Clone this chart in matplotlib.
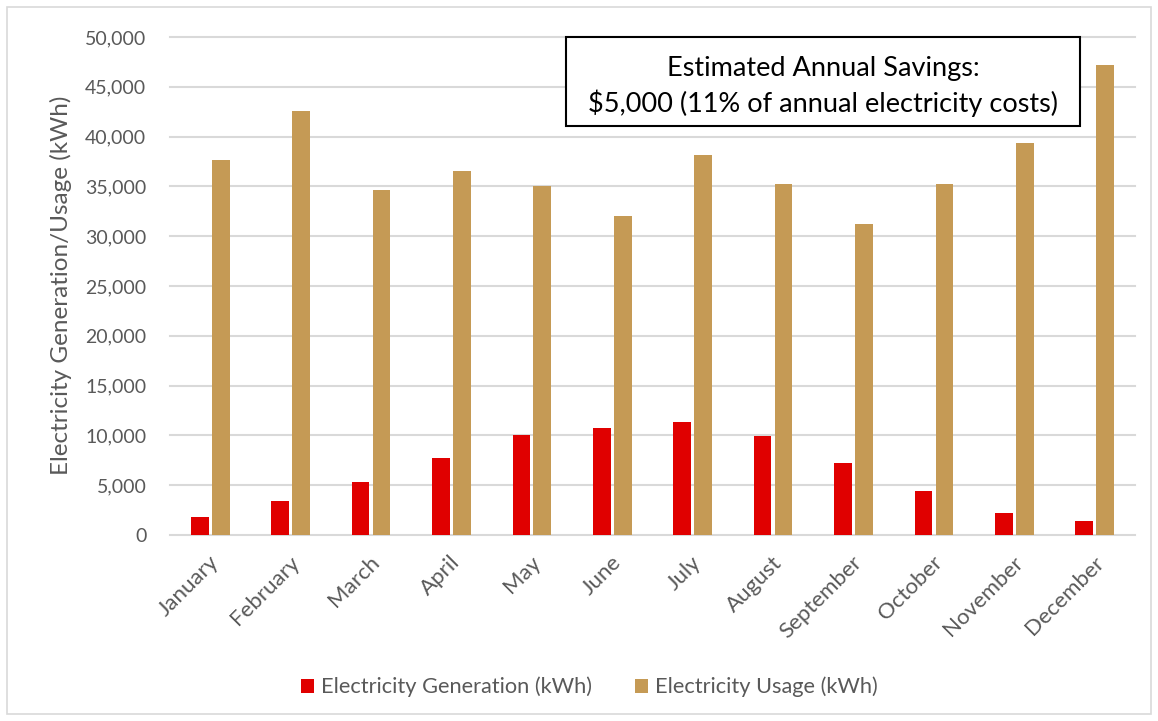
import numpy as np
import matplotlib.pyplot as plt
from matplotlib.patches import Rectangle
from matplotlib.ticker import FuncFormatter
import matplotlib.transforms as mtransforms

plt.rcParams['font.family'] = ['Lato', 'DejaVu Sans']

months = ['January', 'February', 'March', 'April', 'May', 'June', 'July',
          'August', 'September', 'October', 'November', 'December']
generation = [1800, 3400, 5300, 7700, 10000, 10700, 11300, 9900, 7250, 4450, 2200, 1400]
usage = [37600, 42550, 34600, 36500, 35000, 32000, 38200, 35200, 31200, 35200, 39400, 47200]
series_names = ['Electricity Generation (kWh)', 'Electricity Usage (kWh)']
note_lines = ['Estimated Annual Savings:', '$5,000 (11% of annual electricity costs)']

red = '#E00000'
tan = '#C59A55'
grey_txt = '#595959'

fig = plt.figure(figsize=(11.58, 7.21), dpi=100)
ax = fig.add_axes([0.1468, 0.258, 0.8333, 0.6907])

x = np.arange(len(months))
w = 0.22
b1 = ax.bar(x - 0.13, generation, w, color=red, label=series_names[0], zorder=3)
b2 = ax.bar(x + 0.13, usage, w, color=tan, label=series_names[1], zorder=3)

ax.set_xlim(-0.5, len(months) - 0.5)
ax.set_ylim(0, 50000)
ax.set_yticks(np.arange(0, 50001, 5000))
ax.yaxis.set_major_formatter(FuncFormatter(lambda v, p: f'{int(v):,}'))
ax.grid(axis='y', color='#D9D9D9', linewidth=1.5, zorder=0)
for gl in ax.get_ygridlines():
    gl.set_clip_on(False)
for s in ax.spines.values():
    s.set_visible(False)
ax.tick_params(axis='both', length=0, colors=grey_txt)
ax.tick_params(axis='y', pad=17, labelsize=14)

ax.set_xticks(x)
ax.set_xticklabels(months, rotation=45, ha='right', va='top', rotation_mode='anchor',
                   fontsize=16)
offset = mtransforms.ScaledTranslation(-1 / 72, -9 / 72, fig.dpi_scale_trans)
for lbl in ax.get_xticklabels():
    lbl.set_transform(lbl.get_transform() + offset)

ax.set_ylabel('Electricity Generation/Usage (kWh)', fontsize=17.5, color=grey_txt)
ax.yaxis.set_label_coords(-0.1016, 0.502)

# savings callout box
ax.add_patch(Rectangle((0.410, 0.821), 0.533, 0.179, transform=ax.transAxes,
                       facecolor='white', edgecolor='black', linewidth=1.5,
                       zorder=5, clip_on=False))
ax.text(0.677, 0.936, note_lines[0], transform=ax.transAxes, ha='center', va='center',
        fontsize=19.5, color='black', zorder=6)
ax.text(0.677, 0.866, note_lines[1], transform=ax.transAxes, ha='center', va='center',
        fontsize=19.5, color='black', zorder=6)

fig.legend(handles=[b1, b2], loc='center', bbox_to_anchor=(0.509, 0.047), ncol=2,
           frameon=False, fontsize=15.7, labelcolor=grey_txt, handlelength=0.6,
           handleheight=0.6, handletextpad=0.3, columnspacing=2.0)

# chart outline
fig.patches.append(Rectangle((0.006, 0.01), 0.988, 0.98, transform=fig.transFigure,
                             fill=False, edgecolor='#D9D9D9', linewidth=1.2))

fig.savefig('out.png', dpi=100)
